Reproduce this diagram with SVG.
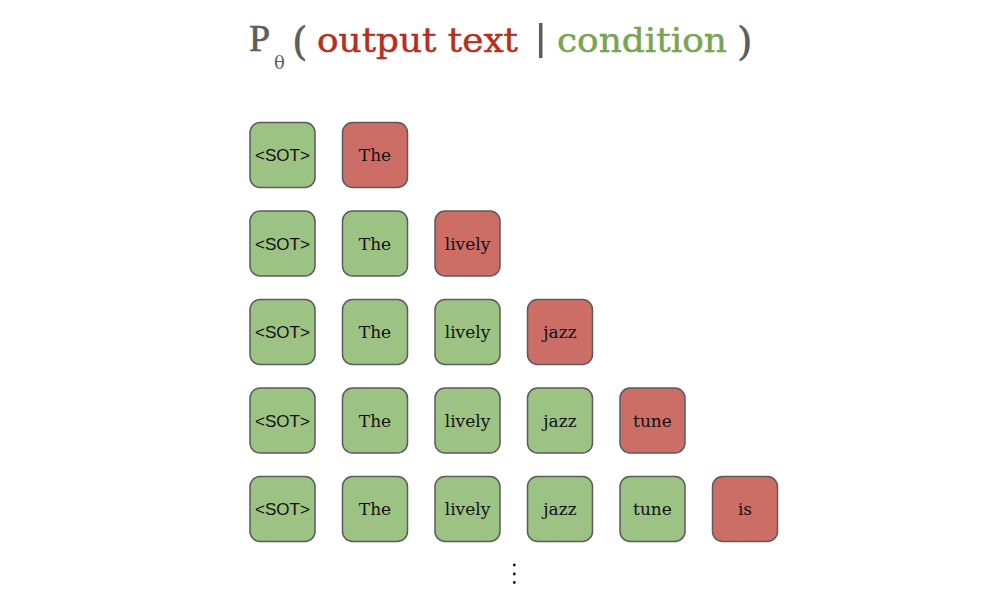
<svg xmlns="http://www.w3.org/2000/svg" width="998" height="602" viewBox="0 0 998 602">
<style>
.b rect{stroke:#5b5b5b;stroke-width:1.5}
.g rect{fill:#9cc383}
.r rect{fill:#cd6e66}
.b text{font-family:"DejaVu Serif","Liberation Serif",serif;font-size:17px;fill:#111;text-anchor:middle}
.b text.s{font-family:"Liberation Sans",Arial,sans-serif;font-size:17px}
.t{font-family:"DejaVu Serif","Liberation Serif",serif;stroke-width:0.5}
</style>
<rect width="998" height="602" fill="#fff"/>
<g id="title">
<text x="249" y="51" font-family="Liberation Serif, serif" font-size="38" fill="#5d5d5d" stroke="#5d5d5d" stroke-width="0.6">P</text>
<text class="t" x="274" y="69" font-size="18" fill="#5d5d5d">θ</text>
<text class="t" x="292" y="55" font-size="40" fill="#5d5d5d" stroke="#5d5d5d">(</text>
<text class="t" x="317" y="52" font-size="34" fill="#b5301e" stroke="#b5301e" textLength="201" lengthAdjust="spacingAndGlyphs">output text</text>
<rect x="539" y="23" width="3.5" height="35" fill="#5d5d5d"/>
<text class="t" x="557" y="52" font-size="34" fill="#78a552" stroke="#78a552" textLength="170" lengthAdjust="spacingAndGlyphs">condition</text>
<text class="t" x="737" y="55" font-size="40" fill="#5d5d5d" stroke="#5d5d5d">)</text>
</g>
<g id="row1">
<g id="r1c1" class="b g"><rect x="250" y="122.5" width="65" height="65" rx="10"/><text class="s" x="282.5" y="161">&lt;SOT&gt;</text></g>
<g id="r1c2" class="b r"><rect x="342.5" y="122.5" width="65" height="65" rx="10"/><text x="375" y="161">The</text></g>
</g>
<g id="row2">
<g id="r2c1" class="b g"><rect x="250" y="211" width="65" height="65" rx="10"/><text class="s" x="282.5" y="249.5">&lt;SOT&gt;</text></g>
<g id="r2c2" class="b g"><rect x="342.5" y="211" width="65" height="65" rx="10"/><text x="375" y="249.5">The</text></g>
<g id="r2c3" class="b r"><rect x="435" y="211" width="65" height="65" rx="10"/><text x="467.5" y="249.5">lively</text></g>
</g>
<g id="row3">
<g id="r3c1" class="b g"><rect x="250" y="299.5" width="65" height="65" rx="10"/><text class="s" x="282.5" y="338">&lt;SOT&gt;</text></g>
<g id="r3c2" class="b g"><rect x="342.5" y="299.5" width="65" height="65" rx="10"/><text x="375" y="338">The</text></g>
<g id="r3c3" class="b g"><rect x="435" y="299.5" width="65" height="65" rx="10"/><text x="467.5" y="338">lively</text></g>
<g id="r3c4" class="b r"><rect x="527.5" y="299.5" width="65" height="65" rx="10"/><text x="560" y="338">jazz</text></g>
</g>
<g id="row4">
<g id="r4c1" class="b g"><rect x="250" y="388" width="65" height="65" rx="10"/><text class="s" x="282.5" y="426.5">&lt;SOT&gt;</text></g>
<g id="r4c2" class="b g"><rect x="342.5" y="388" width="65" height="65" rx="10"/><text x="375" y="426.5">The</text></g>
<g id="r4c3" class="b g"><rect x="435" y="388" width="65" height="65" rx="10"/><text x="467.5" y="426.5">lively</text></g>
<g id="r4c4" class="b g"><rect x="527.5" y="388" width="65" height="65" rx="10"/><text x="560" y="426.5">jazz</text></g>
<g id="r4c5" class="b r"><rect x="620" y="388" width="65" height="65" rx="10"/><text x="652.5" y="426.5">tune</text></g>
</g>
<g id="row5">
<g id="r5c1" class="b g"><rect x="250" y="476.5" width="65" height="65" rx="10"/><text class="s" x="282.5" y="515">&lt;SOT&gt;</text></g>
<g id="r5c2" class="b g"><rect x="342.5" y="476.5" width="65" height="65" rx="10"/><text x="375" y="515">The</text></g>
<g id="r5c3" class="b g"><rect x="435" y="476.5" width="65" height="65" rx="10"/><text x="467.5" y="515">lively</text></g>
<g id="r5c4" class="b g"><rect x="527.5" y="476.5" width="65" height="65" rx="10"/><text x="560" y="515">jazz</text></g>
<g id="r5c5" class="b g"><rect x="620" y="476.5" width="65" height="65" rx="10"/><text x="652.5" y="515">tune</text></g>
<g id="r5c6" class="b r"><rect x="712.5" y="476.5" width="65" height="65" rx="10"/><text x="745" y="515">is</text></g>
</g>
<g id="ellipsis" fill="#111">
<circle cx="514.3" cy="565" r="1.4"/>
<circle cx="514.3" cy="574" r="1.4"/>
<circle cx="514.3" cy="582.5" r="1.4"/>
</g>
<g id="connectors"/>
</svg>
